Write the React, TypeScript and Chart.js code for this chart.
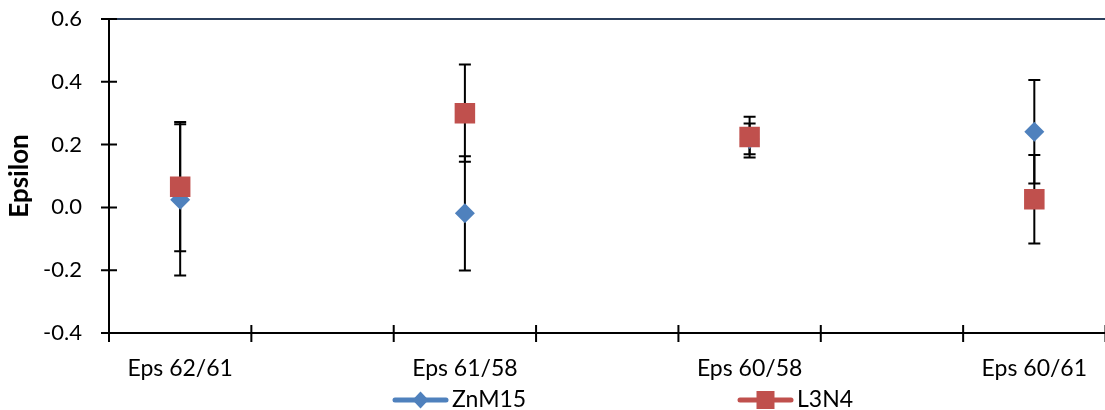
import React, { useEffect, useRef } from "react";
import { Chart, registerables } from "chart.js";

Chart.register(...registerables);

// ---- data ----
const categories = ["Eps 62/61", "Eps 61/58", "Eps 60/58", "Eps 60/61"];
const seriesNames = ["ZnM15", "L3N4"];
const znm15Values = [0.024, -0.019, 0.218, 0.241];
const znm15Errors = [0.241, 0.182, 0.049, 0.165];
const l3n4Values = [0.066, 0.3, 0.224, 0.026];
const l3n4Errors = [0.206, 0.155, 0.065, 0.141];
const yMin = -0.4;
const yMax = 0.6;
const yStep = 0.2;

// ---- style ----
const BLUE = "#4F81BD";
const RED = "#C0504D";
const FONT = "Lato";

// Each labelled category is followed by an empty spacer slot.
const slotLabels: string[] = categories.flatMap((c, i) =>
  i < categories.length - 1 ? [c, ""] : [c]
);
const toSlots = (vals: number[]) =>
  slotLabels.map((_, s) => (s % 2 === 0 ? vals[s / 2] : null));

const decorPlugin = {
  id: "decor",
  beforeDatasetsDraw(chart: any) {
    const { ctx, chartArea } = chart;
    const { left, right, top, bottom } = chartArea;
    const yScale = chart.scales.y;
    ctx.save();

    // top frame line
    ctx.strokeStyle = "#2b3f5c";
    ctx.lineWidth = 2;
    ctx.beginPath();
    ctx.moveTo(left, top);
    ctx.lineTo(chart.width, top);
    ctx.stroke();

    // axes
    ctx.strokeStyle = "#000";
    ctx.lineWidth = 2;
    ctx.beginPath();
    ctx.moveTo(left, top - 1);
    ctx.lineTo(left, bottom);
    ctx.moveTo(left, bottom);
    ctx.lineTo(chart.width, bottom);
    // y tick marks crossing the axis
    yScale.ticks.forEach((t: any) => {
      const y = yScale.getPixelForValue(t.value);
      ctx.moveTo(left - 8, y);
      ctx.lineTo(left + 8, y);
    });
    // x tick marks at slot boundaries
    const n = slotLabels.length;
    for (let k = 0; k <= n; k++) {
      const x = left + (k * (right - left)) / n;
      ctx.moveTo(x, bottom - 8);
      ctx.lineTo(x, bottom + 9);
    }
    ctx.stroke();

    // error bars
    ctx.lineWidth = 2;
    ctx.strokeStyle = "#000";
    chart.data.datasets.forEach((ds: any, di: number) => {
      const meta = chart.getDatasetMeta(di);
      meta.data.forEach((pt: any, i: number) => {
        const v = ds.data[i];
        const e = ds.errors[i];
        if (v == null || e == null) return;
        const x = pt.x;
        const yt = yScale.getPixelForValue(v + e);
        const yb = yScale.getPixelForValue(v - e);
        ctx.beginPath();
        ctx.moveTo(x, yt);
        ctx.lineTo(x, yb);
        ctx.moveTo(x - 6, yt);
        ctx.lineTo(x + 6, yt);
        ctx.moveTo(x - 6, yb);
        ctx.lineTo(x + 6, yb);
        ctx.stroke();
      });
    });
    ctx.restore();
  },
  afterDraw(chart: any) {
    const { ctx } = chart;
    ctx.save();
    const entries = [
      { label: seriesNames[0], color: BLUE, shape: "diamond", x: 393 },
      { label: seriesNames[1], color: RED, shape: "square", x: 738 },
    ];
    const y = 400;
    entries.forEach((e) => {
      ctx.strokeStyle = e.color;
      ctx.lineWidth = 5;
      ctx.lineCap = "round";
      ctx.beginPath();
      ctx.moveTo(e.x + 2, y);
      ctx.lineTo(e.x + 53, y);
      ctx.stroke();
      const cx = e.x + 27.5;
      ctx.fillStyle = e.color;
      ctx.beginPath();
      if (e.shape === "diamond") {
        ctx.moveTo(cx, y - 8.5);
        ctx.lineTo(cx + 8, y);
        ctx.lineTo(cx, y + 8.5);
        ctx.lineTo(cx - 8, y);
        ctx.closePath();
      } else {
        ctx.rect(cx - 9, y - 9, 18, 18);
      }
      ctx.fill();
      ctx.fillStyle = "#000";
      ctx.font = `23px ${FONT}`;
      ctx.textBaseline = "alphabetic";
      ctx.textAlign = "left";
      ctx.fillText(e.label, e.x + 59, 407);
    });
    ctx.restore();
  },
};

export default function App() {
  const ref = useRef<HTMLCanvasElement>(null);

  useEffect(() => {
    const chart = new Chart(ref.current as HTMLCanvasElement, {
      type: "line",
      data: {
        labels: slotLabels,
        datasets: [
          {
            label: seriesNames[0],
            data: toSlots(znm15Values),
            errors: toSlots(znm15Errors),
            showLine: false,
            pointStyle: "rectRot",
            pointRadius: 10,
            pointBorderWidth: 0,
            pointBackgroundColor: BLUE,
            pointBorderColor: BLUE,
            borderColor: BLUE,
            backgroundColor: BLUE,
            order: 2,
          } as any,
          {
            label: seriesNames[1],
            data: toSlots(l3n4Values),
            errors: toSlots(l3n4Errors),
            showLine: false,
            pointStyle: "rect",
            pointRadius: 14.5,
            pointBorderWidth: 0,
            pointBackgroundColor: RED,
            pointBorderColor: RED,
            borderColor: RED,
            backgroundColor: RED,
            order: 1,
          } as any,
        ],
      },
      options: {
        responsive: false,
        animation: false,
        devicePixelRatio: 1,
        layout: { padding: { left: 0, top: 19, right: 10, bottom: 0 } },
        plugins: {
          legend: { display: false },
          tooltip: { enabled: false },
        },
        scales: {
          x: {
            type: "category",
            offset: true,
            grid: { display: false, drawTicks: false, offset: true },
            border: { display: false },
            ticks: {
              autoSkip: false,
              maxRotation: 0,
              padding: 22,
              color: "#000",
              font: { family: FONT, size: 23 },
            },
            afterFit(scale: any) {
              scale.height = 77;
              scale.paddingLeft = 0;
              scale.paddingRight = 0;
            },
          },
          y: {
            min: yMin,
            max: yMax,
            grid: { display: false, drawTicks: false },
            border: { display: false },
            ticks: {
              stepSize: yStep,
              padding: 27,
              color: "#000",
              font: { family: FONT, size: 22 },
              callback: (v: any) => Number(v).toFixed(1),
            },
            title: {
              display: true,
              text: "Epsilon",
              color: "#000",
              font: { family: FONT, size: 26, weight: "bold" },
              padding: { top: 4, bottom: 0 },
            },
            afterFit(scale: any) {
              scale.width = 109;
              scale.paddingTop = 0;
              scale.paddingBottom = 0;
            },
          },
        },
      },
      plugins: [decorPlugin],
    } as any);
    return () => chart.destroy();
  }, []);

  return (
    <div
      style={{
        position: "absolute",
        left: 0,
        top: 0,
        width: 1105,
        height: 410,
        overflow: "hidden",
        background: "#fff",
      }}
    >
      <canvas
        ref={ref}
        width={1120}
        height={410}
        style={{ display: "block", width: 1120, height: 410 }}
      />
    </div>
  );
}
